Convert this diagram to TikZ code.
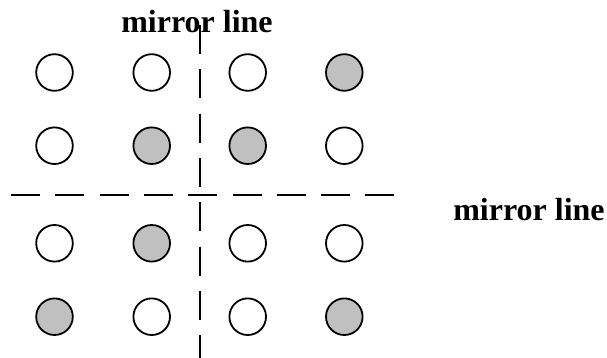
\documentclass[tikz,border=0pt]{standalone}
\usepackage{fontspec}
\setmainfont{Liberation Serif}
\definecolor{dotgray}{HTML}{C0C0C0}
\tikzset{
  lbl/.style={font=\fontsize{32}{36}\selectfont\bfseries, anchor=base, inner sep=0pt},
  mline/.style={line width=2pt, dash pattern=on 29pt off 15.3pt},
  dot/.style={circle, draw, line width=1.8pt, minimum size=36.6pt, inner sep=0pt},
  wdot/.style={dot, fill=white},
  gdot/.style={dot, fill=dotgray}
}
\begin{document}
\begin{tikzpicture}[x=1pt,y=-1pt]
\useasboundingbox (0,0) rectangle (607,358);
\node[lbl] (top) at (197,32.3) {mirror line};
\node[lbl] (right) at (529,220.7) {mirror line};
\coordinate (vt) at (200,25);
\coordinate (vb) at (200,358);
\coordinate (hl) at (11,194.7);
\coordinate (hr) at (394,194.7);
\draw[mline] (vt) -- (vb);
\draw[mline] (hl) -- (hr);
% row 1
\node[wdot] (a11) at (54.5,72.5) {};
\node[wdot] (a12) at (151.7,72.5) {};
\node[wdot] (a13) at (247.7,72.5) {};
\node[gdot] (a14) at (344.3,72.5) {};
% row 2
\node[wdot] (a21) at (54.5,145.7) {};
\node[gdot] (a22) at (151.7,145.7) {};
\node[gdot] (a23) at (247.7,145.7) {};
\node[wdot] (a24) at (344.3,145.7) {};
% row 3
\node[wdot] (a31) at (54.5,243.3) {};
\node[gdot] (a32) at (151.7,243.3) {};
\node[wdot] (a33) at (247.7,243.3) {};
\node[wdot] (a34) at (344.3,243.3) {};
% row 4
\node[gdot] (a41) at (54.5,316.7) {};
\node[wdot] (a42) at (151.7,316.7) {};
\node[wdot] (a43) at (247.7,316.7) {};
\node[gdot] (a44) at (344.3,316.7) {};
\end{tikzpicture}
\end{document}
